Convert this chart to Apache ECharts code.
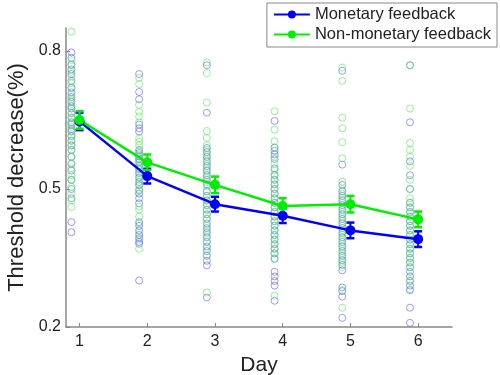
<!DOCTYPE html>
<html><head><meta charset="utf-8">
<script src="https://cdn.jsdelivr.net/npm/echarts@6/dist/echarts.min.js"></script>
<style>html,body{margin:0;padding:0;background:#fff}#c{width:500px;height:375px}</style>
</head><body><div id="c"></div>
<script>
const days = [1, 2, 3, 4, 5, 6];
const xTicks = [1, 2, 3, 4, 5, 6];
const yTicks = [0.2, 0.5, 0.8];
const monetaryMean = [0.647, 0.528, 0.467, 0.442, 0.410, 0.391];
const monetaryErr = [0.019, 0.016, 0.016, 0.016, 0.017, 0.017];
const nonMonetaryMean = [0.650, 0.558, 0.509, 0.463, 0.467, 0.434];
const nonMonetaryErr = [0.019, 0.017, 0.018, 0.017, 0.018, 0.017];
const monetaryIndiv = [
  [0.797,0.785,0.77,0.76,0.75,0.735,0.72,0.71,0.70,0.69,0.68,0.675,0.665,0.655,0.645,0.64,0.63,0.625,0.615,0.605,0.595,0.585,0.57,0.555,0.54,0.52,0.50,0.48,0.428,0.406],
  [0.750,0.711,0.695,0.640,0.632,0.625,0.585,0.578,0.571,0.565,0.558,0.55,0.543,0.535,0.525,0.515,0.508,0.497,0.49,0.48,0.469,0.428,0.42,0.41,0.40,0.393,0.385,0.381,0.301],
  [0.769,0.666,0.589,0.58,0.57,0.56,0.55,0.54,0.53,0.52,0.51,0.495,0.485,0.475,0.465,0.455,0.445,0.435,0.425,0.415,0.405,0.395,0.385,0.375,0.365,0.355,0.344,0.334,0.264],
  [0.648,0.59,0.583,0.575,0.565,0.545,0.53,0.52,0.51,0.5,0.49,0.48,0.47,0.46,0.45,0.44,0.43,0.42,0.41,0.4,0.39,0.38,0.37,0.36,0.348,0.32,0.31,0.30,0.29,0.257],
  [0.757,0.553,0.509,0.495,0.485,0.475,0.465,0.455,0.445,0.435,0.425,0.415,0.405,0.395,0.385,0.375,0.365,0.355,0.345,0.335,0.323,0.286,0.278,0.266,0.220],
  [0.769,0.645,0.56,0.53,0.50,0.47,0.46,0.45,0.44,0.43,0.42,0.41,0.40,0.39,0.38,0.37,0.36,0.35,0.34,0.33,0.32,0.31,0.30,0.29,0.28,0.242,0.209]
];
const nonMonetaryIndiv = [
  [0.842,0.78,0.77,0.755,0.745,0.73,0.72,0.705,0.695,0.685,0.675,0.665,0.655,0.645,0.635,0.625,0.615,0.605,0.595,0.585,0.57,0.555,0.545,0.53,0.52,0.505,0.49,0.475,0.461],
  [0.742,0.728,0.683,0.668,0.658,0.645,0.61,0.603,0.595,0.582,0.575,0.566,0.56,0.552,0.545,0.537,0.53,0.52,0.51,0.5,0.49,0.462,0.455,0.44,0.425,0.405,0.39,0.37],
  [0.775,0.752,0.688,0.626,0.611,0.595,0.585,0.575,0.565,0.555,0.545,0.535,0.525,0.515,0.505,0.495,0.485,0.475,0.465,0.455,0.445,0.435,0.42,0.41,0.40,0.385,0.37,0.355,0.275],
  [0.669,0.629,0.604,0.59,0.57,0.555,0.54,0.53,0.52,0.51,0.5,0.49,0.48,0.47,0.46,0.45,0.44,0.43,0.42,0.41,0.40,0.39,0.38,0.37,0.36,0.35,0.268],
  [0.764,0.735,0.655,0.632,0.602,0.567,0.516,0.50,0.49,0.48,0.47,0.46,0.45,0.44,0.43,0.42,0.41,0.40,0.39,0.38,0.37,0.36,0.35,0.34,0.33,0.28,0.242],
  [0.769,0.675,0.60,0.585,0.57,0.55,0.52,0.50,0.48,0.47,0.46,0.45,0.44,0.43,0.42,0.41,0.40,0.39,0.38,0.37,0.36,0.35,0.34,0.33,0.31,0.30,0.282]
];
const scatterOffset = -0.12;

const BLUE = '#0000ff', GREEN = '#00ee00';
function indivPoints(arr) {
  const pts = [];
  arr.forEach((vals, i) => vals.forEach(v => pts.push([days[i] + scatterOffset, v])));
  return pts;
}
function errData(mean, err) { return days.map((d, i) => [d, mean[i] - err[i], mean[i] + err[i]]); }
function errRender(color) {
  return function (params, api) {
    const x = api.value(0);
    const lo = api.coord([x, api.value(1)]);
    const hi = api.coord([x, api.value(2)]);
    const w = 4;
    return {
      type: 'group',
      children: [
        { type: 'line', shape: { x1: lo[0], y1: lo[1], x2: hi[0], y2: hi[1] }, style: { stroke: color, lineWidth: 2 } },
        { type: 'line', shape: { x1: lo[0] - w, y1: lo[1], x2: lo[0] + w, y2: lo[1] }, style: { stroke: color, lineWidth: 2.5 } },
        { type: 'line', shape: { x1: hi[0] - w, y1: hi[1], x2: hi[0] + w, y2: hi[1] }, style: { stroke: color, lineWidth: 2.5 } }
      ]
    };
  };
}
const FONT = 'Liberation Sans, Arial, sans-serif';
const chart = echarts.init(document.getElementById('c'), null, { renderer: 'canvas' });
chart.setOption({
  animation: false,
  textStyle: { fontFamily: FONT },
  grid: { left: 66, right: 48, top: 28, bottom: 48, containLabel: false, outerBoundsMode: 'none' },
  legend: {
    data: ['Monetary feedback', 'Non-monetary feedback'],
    orient: 'vertical', right: 3, top: 3,
    backgroundColor: '#fff', borderColor: '#888', borderWidth: 1,
    padding: [3, 6, 4, 6], itemGap: 3, itemWidth: 36, itemHeight: 10,
    textStyle: { fontSize: 16.5, color: '#222', fontFamily: FONT }
  },
  xAxis: {
    type: 'value', min: 0.8, max: 6.5,
    name: 'Day', nameLocation: 'middle', nameGap: 22,
    nameTextStyle: { fontSize: 21, color: '#222', fontFamily: FONT },
    axisLine: { show: true, lineStyle: { color: '#888', width: 1.5 } },
    axisTick: { show: true, inside: true, length: 4, customValues: xTicks, lineStyle: { color: '#888' } },
    axisLabel: { customValues: xTicks, fontSize: 16, color: '#222', margin: 7 },
    splitLine: { show: false }
  },
  yAxis: {
    type: 'value', min: 0.2, max: 0.85,
    name: 'Threshold decrease(%)', nameLocation: 'middle', nameGap: 33, nameRotate: 90,
    nameTextStyle: { fontSize: 22, color: '#222', fontFamily: FONT },
    axisLine: { show: true, lineStyle: { color: '#888', width: 1.5 } },
    axisTick: { show: true, inside: true, length: 4, customValues: yTicks, lineStyle: { color: '#888' } },
    axisLabel: { customValues: yTicks, fontSize: 16, color: '#222', margin: 5, formatter: v => v.toFixed(1) },
    splitLine: { show: false }
  },
  series: [
    { name: 'mIndiv', type: 'scatter', data: indivPoints(monetaryIndiv), symbol: 'circle', symbolSize: 7,
      itemStyle: { color: 'rgba(0,0,0,0)', borderColor: 'rgba(90,90,255,0.75)', borderWidth: 1 }, z: 1 },
    { name: 'nIndiv', type: 'scatter', data: indivPoints(nonMonetaryIndiv), symbol: 'circle', symbolSize: 7,
      itemStyle: { color: 'rgba(0,0,0,0)', borderColor: 'rgba(80,235,80,0.75)', borderWidth: 1 }, z: 1 },
    { name: 'Monetary feedback', type: 'line', data: days.map((d, i) => [d, monetaryMean[i]]),
      symbol: 'circle', symbolSize: 10, showAllSymbol: true,
      lineStyle: { color: BLUE, width: 2.5 }, itemStyle: { color: BLUE }, z: 3 },
    { name: 'Non-monetary feedback', type: 'line', data: days.map((d, i) => [d, nonMonetaryMean[i]]),
      symbol: 'circle', symbolSize: 10, showAllSymbol: true,
      lineStyle: { color: GREEN, width: 2.5 }, itemStyle: { color: GREEN }, z: 3 },
    { name: 'mErr', type: 'custom', renderItem: errRender(BLUE), data: errData(monetaryMean, monetaryErr), z: 2 },
    { name: 'nErr', type: 'custom', renderItem: errRender(GREEN), data: errData(nonMonetaryMean, nonMonetaryErr), z: 2 }
  ]
});
</script></body></html>
